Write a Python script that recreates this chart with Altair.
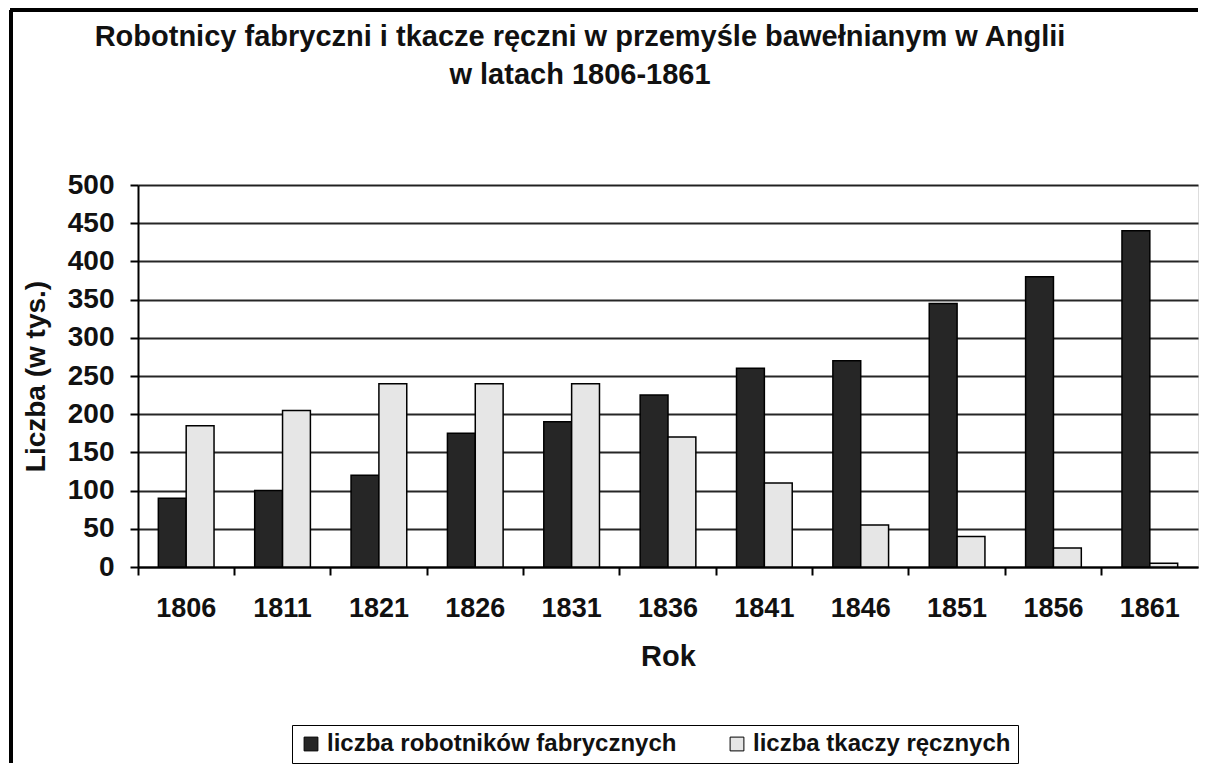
import altair as alt
import pandas as pd

years = ["1806", "1811", "1821", "1826", "1831", "1836", "1841", "1846", "1851", "1856", "1861"]
factory = [90, 100, 120, 175, 190, 225, 260, 270, 345, 380, 440]
weavers = [185, 205, 240, 240, 240, 170, 110, 55, 40, 25, 5]
series = ["liczba robotników fabrycznych", "liczba tkaczy ręcznych"]
y_ticks = [0, 50, 100, 150, 200, 250, 300, 350, 400, 450, 500]
title_lines = ["Robotnicy fabryczni i tkacze ręczni w przemyśle bawełnianym w Anglii",
               "w latach 1806-1861"]

rows = []
for yr, f, w in zip(years, factory, weavers):
    rows.append({"Rok": yr, "seria": series[0], "wartosc": f})
    rows.append({"Rok": yr, "seria": series[1], "wartosc": w})
df = pd.DataFrame(rows)

FONT = "Liberation Sans"
W, H = 1060, 382

bars = alt.Chart(df).mark_bar(stroke="black", strokeWidth=1.5).encode(
    x=alt.X("Rok:N", sort=years,
            scale=alt.Scale(paddingInner=0, paddingOuter=0),
            axis=alt.Axis(title="Rok", labelAngle=0, bandPosition=0, ticks=True,
                          tickSize=8, tickWidth=2,
                          tickColor="black", domainColor="black", domainWidth=2,
                          labelFont=FONT, labelFontSize=27, labelFontWeight="bold",
                          labelColor="#111", labelPadding=20,
                          titleFont=FONT, titleFontSize=29, titleFontWeight="bold",
                          titleColor="#111", titlePadding=21)),
    xOffset=alt.XOffset("seria:N", sort=series,
                        scale=alt.Scale(paddingInner=0, paddingOuter=0.73)),
    y=alt.Y("wartosc:Q",
            scale=alt.Scale(domain=[0, 500], nice=False),
            axis=alt.Axis(title="Liczba (w tys.)", values=y_ticks,
                          grid=True, gridColor="black", gridWidth=2, gridOpacity=0.85,
                          tickSize=8, tickWidth=2, tickColor="black",
                          domainColor="black", domainWidth=2,
                          labelFont=FONT, labelFontSize=28, labelFontWeight="bold",
                          labelColor="#111", labelPadding=16,
                          titleFont=FONT, titleFontSize=28, titleFontWeight="bold",
                          titleColor="#111", titlePadding=17)),
    color=alt.Color("seria:N", sort=series,
                    scale=alt.Scale(domain=series, range=["#262626", "#e6e6e6"]),
                    legend=alt.Legend(title=None, orient="none", direction="horizontal",
                                      legendX=154, legendY=540,
                                      strokeColor="black", padding=7,
                                      symbolType="square", symbolSize=190,
                                      symbolStrokeColor="black", symbolStrokeWidth=1,
                                      symbolOpacity=1,
                                      labelFont=FONT, labelFontSize=24,
                                      labelFontWeight="bold", labelColor="#111",
                                      labelLimit=600, columnPadding=48, symbolOffset=0)),
)

t1 = alt.Chart(pd.DataFrame({"t": [title_lines[0]]})).mark_text(
    font=FONT, fontSize=29, fontWeight="bold", color="#111", baseline="alphabetic", align="center"
).encode(text="t:N", x=alt.value(442), y=alt.value(-139))
t2 = alt.Chart(pd.DataFrame({"t": [title_lines[1]]})).mark_text(
    font=FONT, fontSize=29, fontWeight="bold", color="#111", baseline="alphabetic", align="center"
).encode(text="t:N", x=alt.value(442), y=alt.value(-101))

frame_top = alt.Chart(df).mark_rule(color="black", strokeWidth=3).encode(
    x=alt.value(-128), x2=alt.value(W), y=alt.value(-175)
)
frame_left = alt.Chart(df).mark_rule(color="black", strokeWidth=3).encode(
    x=alt.value(-127), y=alt.value(-175), y2=alt.value(H + 196)
)

chart = alt.layer(bars, t1, t2, frame_top, frame_left).properties(
    width=W, height=H,
    padding=0,
).configure_view(stroke="black", strokeWidth=2).configure(background="white")

chart.save("out.html", embed_options={"renderer": "svg", "actions": False})
